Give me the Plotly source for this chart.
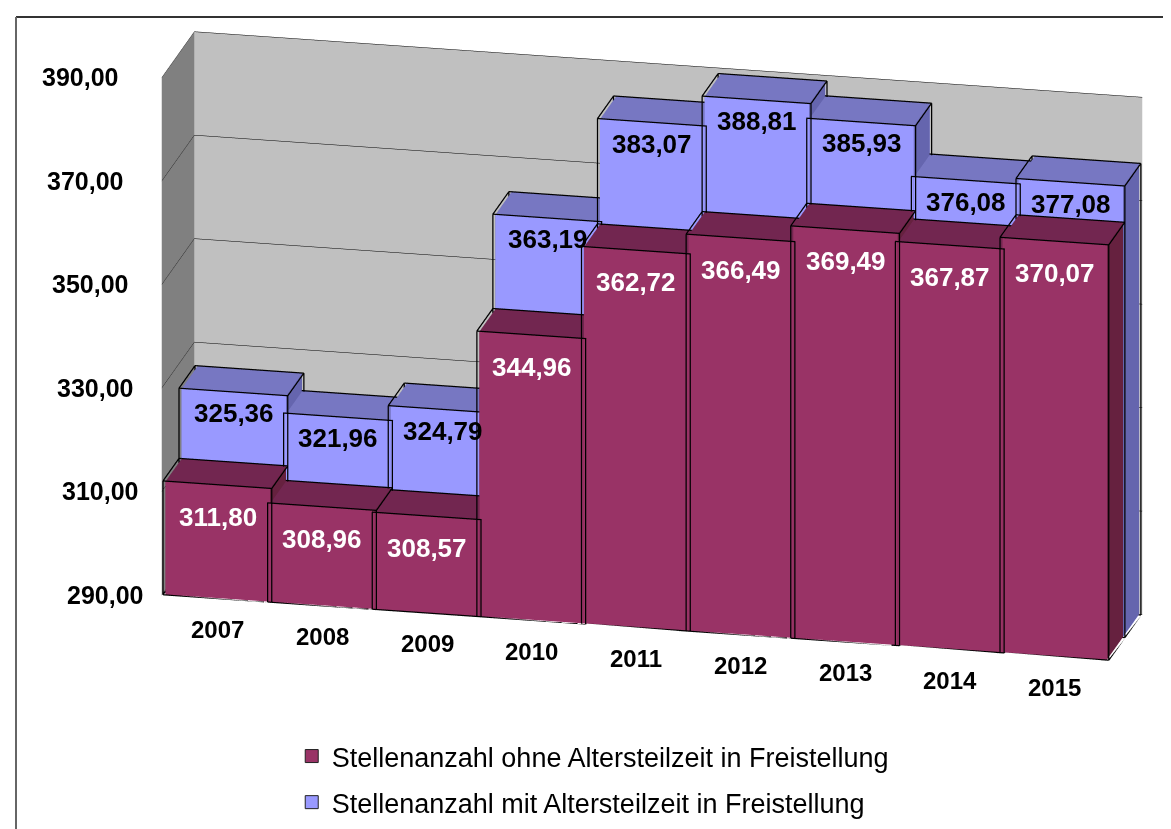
import plotly.graph_objects as go

years = ["2007", "2008", "2009", "2010", "2011", "2012", "2013", "2014", "2015"]
ohne = [311.80, 308.96, 308.57, 344.96, 362.72, 366.49, 369.49, 367.87, 370.07]
mit = [325.36, 321.96, 324.79, 363.19, 383.07, 388.81, 385.93, 376.08, 377.08]
series_names = ["Stellenanzahl ohne Altersteilzeit in Freistellung",
                "Stellenanzahl mit Altersteilzeit in Freistellung"]
z_ticks = [290, 310, 330, 350, 370, 390]
z_tick_labels = ["290,00", "310,00", "330,00", "350,00", "370,00", "390,00"]

front_colors = ["#993366", "#9999FF"]
top_colors = ["#722650", "#7777C2"]
side_colors = ["#66213F", "#6565AE"]
label_colors = ["white", "black"]
label_offsets = [6.0, 4.0]

Z0 = z_ticks[0]
FONT = "Liberation Sans, Arial, sans-serif"


def fmt(v):
    return f"{v:.2f}".replace(".", ",")


def box_mesh(series_values, row, front, top, side):
    X, Y, Z, I, J, K, FC = [], [], [], [], [], [], []
    for i, v in enumerate(series_values):
        x0, x1, y0, y1, z0, z1 = i, i + 1, row, row + 1, Z0, v
        b = len(X)
        X += [x0, x1, x1, x0, x0, x1, x1, x0]
        Y += [y0, y0, y1, y1, y0, y0, y1, y1]
        Z += [z0, z0, z0, z0, z1, z1, z1, z1]
        faces = [
            ((0, 1, 2), front), ((0, 2, 3), front),   # bottom
            ((4, 5, 6), top), ((4, 6, 7), top),       # top
            ((0, 1, 5), front), ((0, 5, 4), front),   # front
            ((3, 2, 6), front), ((3, 6, 7), front),   # back
            ((0, 3, 7), side), ((0, 7, 4), side),     # left
            ((1, 2, 6), side), ((1, 6, 5), side),     # right
        ]
        for (a, c, d), col in faces:
            I.append(b + a); J.append(b + c); K.append(b + d); FC.append(col)
    return X, Y, Z, I, J, K, FC


def box_edges(series_values, row, eps=0.02, zeps=0.2):
    ex, ey, ez = [], [], []
    for i, v in enumerate(series_values):
        x0, x1 = i - eps, i + 1 + eps
        y0, y1 = row - eps, row + 1 - eps
        z0, z1 = Z0, v + zeps
        P = [(x0, y0, z0), (x1, y0, z0), (x1, y1, z0), (x0, y1, z0),
             (x0, y0, z1), (x1, y0, z1), (x1, y1, z1), (x0, y1, z1)]
        for a, c in [(0, 1), (1, 2), (2, 3), (3, 0), (4, 5), (5, 6), (6, 7), (7, 4),
                     (0, 4), (1, 5), (2, 6), (3, 7)]:
            ex += [P[a][0], P[c][0], None]
            ey += [P[a][1], P[c][1], None]
            ez += [P[a][2], P[c][2], None]
    return ex, ey, ez


fig = go.Figure()
all_series = [ohne, mit]
for s, vals in enumerate(all_series):
    X, Y, Z, I, J, K, FC = box_mesh(vals, s, front_colors[s], top_colors[s], side_colors[s])
    fig.add_trace(go.Mesh3d(
        x=X, y=Y, z=Z, i=I, j=J, k=K, facecolor=FC, flatshading=True,
        lighting=dict(ambient=1.0, diffuse=0.0, specular=0.0, roughness=1.0, fresnel=0.0),
        showlegend=False, hoverinfo="skip",
    ))
    ex, ey, ez = box_edges(vals, s)
    fig.add_trace(go.Scatter3d(
        x=ex, y=ey, z=ez, mode="lines", line=dict(color="black", width=2.5),
        showlegend=False, hoverinfo="skip",
    ))

# legend entries (square swatches)
for s in range(2):
    fig.add_trace(go.Scatter3d(
        x=[None], y=[None], z=[None], mode="markers", name=series_names[s],
        legendgroup=f"g{s}",
        marker=dict(symbol="square", size=13, color=front_colors[s],
                    line=dict(color="#222222", width=1)),
        hoverinfo="skip",
    ))

annotations = []
for s, vals in enumerate(all_series):
    for i, v in enumerate(vals):
        annotations.append(dict(
            x=i + 0.5, y=s, z=v - label_offsets[s], text=fmt(v), showarrow=False,
            font=dict(family=FONT, size=26, color=label_colors[s], weight="bold"),
        ))
for t, lab in zip(z_ticks, z_tick_labels):
    annotations.append(dict(
        x=0, y=0, z=t, text=lab, showarrow=False, xanchor="right",
        xshift=-20 - (t - Z0) * 0.25,
        font=dict(family=FONT, size=25, color="black", weight="bold"),
    ))
for i, yr in enumerate(years):
    annotations.append(dict(
        x=i + 0.5, y=0, z=Z0, text=yr, showarrow=False, yshift=-31,
        font=dict(family=FONT, size=24, color="black", weight="bold"),
    ))

fig.update_layout(
    width=1171, height=829,
    margin=dict(l=0, r=0, t=0, b=0),
    paper_bgcolor="white",
    showlegend=True,
    legend=dict(x=0.2423, y=1 - 724 / 829, xanchor="left", yanchor="top",
                font=dict(family=FONT, size=27, color="black"),
                tracegroupgap=8, bgcolor="rgba(0,0,0,0)"),
    scene=dict(
        domain=dict(x=[0.10, 1.0], y=[0.16, 1.0]),
        aspectmode="manual",
        aspectratio=dict(x=2.79, y=0.432, z=1.565),
        camera=dict(eye=dict(x=0.54, y=-2.437, z=0.79), center=dict(x=0, y=0, z=-0.03),
                    up=dict(x=0, y=0, z=1), projection=dict(type="orthographic")),
        xaxis=dict(range=[-0.03, 9.03], showticklabels=False,
                   showgrid=False, showbackground=True, backgroundcolor="#808080",
                   zeroline=False, showline=False, title=dict(text=""), showspikes=False,
                   ticks=""),
        yaxis=dict(range=[-0.03, 2.0], showticklabels=False, showgrid=False,
                   showbackground=True, backgroundcolor="#C0C0C0", zeroline=False,
                   showline=False, title=dict(text=""), showspikes=False, ticks=""),
        zaxis=dict(range=[290, 390], tickvals=z_ticks, showticklabels=False,
                   showgrid=True, gridcolor="black", gridwidth=1,
                   showbackground=False, zeroline=False, showline=False,
                   title=dict(text=""), showspikes=False, ticks=""),
        annotations=annotations,
    ),
    shapes=[
        dict(type="line", xref="paper", yref="paper", x0=8 / 1171, x1=1.0,
             y0=1 - 9 / 829, y1=1 - 9 / 829, line=dict(color="#333333", width=2)),
        dict(type="line", xref="paper", yref="paper", x0=8 / 1171, x1=8 / 1171,
             y0=0.0, y1=1 - 9 / 829, line=dict(color="#666666", width=2)),
    ],
)

fig.write_html("out.html", config={"displayModeBar": False})
